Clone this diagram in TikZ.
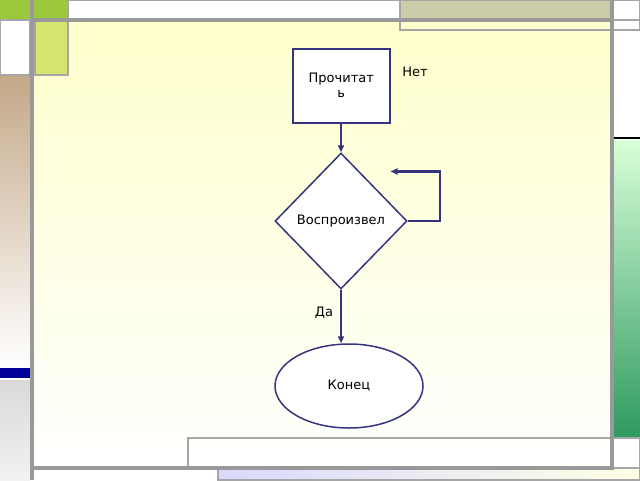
\documentclass[tikz,border=0pt]{standalone}
\usepackage{fontspec}
\setmainfont{DejaVu Sans}
\usetikzlibrary{shapes.geometric,arrows.meta}
\definecolor{flow}{HTML}{35357F}
\definecolor{tan}{HTML}{C4A888}
\definecolor{khaki}{HTML}{CCCCAA}
\definecolor{seagreen}{HTML}{2E9A5E}
\definecolor{leaf}{HTML}{9BC83C}
\definecolor{lime}{HTML}{D4E46C}
\tikzset{
  frame/.style={draw=gray!70, line width=1.2pt},
  bar/.style={draw=gray!80, line width=4pt},
  link/.style={flow, line width=2.2pt, -{Triangle[length=7pt,width=6pt]}},
  label/.style={font=\fontsize{13}{15}\selectfont},
  box/.style={draw=flow, line width=1.5pt, fill=white, minimum width=97pt, minimum height=74pt, align=center, label},
}
\begin{document}
\begin{tikzpicture}[x=1pt,y=-1pt]
    \useasboundingbox (0,0) rectangle (640,480);
    % main slide area
    \shade[top color=yellow!20, bottom color=white] (32,20) rectangle (612,468);
    % decoration left
    \fill[leaf] (0,0) rectangle (68,20);
    \fill[lime] (35,20) rectangle (68,75);
    \draw[frame] (35,20) rectangle (68,75);
    \shade[top color=tan, bottom color=white] (0,75) rectangle (30,368);
    \fill[blue!60!black] (0,368) rectangle (30,378);
    \shade[top color=gray!30, bottom color=gray!10] (0,380) rectangle (30,480);
    \draw[frame] (0,20) rectangle (30,75);
    % decoration right
    \fill[khaki] (400,0) rectangle (612,20);
    \draw[frame] (400,0) rectangle (640,30);
    \draw[frame] (68,0) rectangle (400,20);
    \draw[frame] (612,0) rectangle (640,20);
    \shade[top color=green!15, bottom color=seagreen] (612,140) rectangle (640,438);
    \draw[black, line width=1.5pt] (612,138) -- (640,138);
    % decoration bottom
    \draw[frame] (188,438) rectangle (640,468);
    \shade[left color=blue!15, right color=yellow!10] (218,468) rectangle (640,480);
    \draw[frame] (218,468) rectangle (640,480);
    % grey bars
    \draw[bar] (32,0) -- (32,480);
    \draw[bar] (32,20) -- (612,20);
    \draw[bar] (612,0) -- (612,470);
    \draw[bar] (32,468) -- (612,468);
    % flowchart
    \node[box, anchor=north west] (read) at (292,48) {Прочитат\\ь};
    \node[diamond, draw=flow, line width=1.5pt, fill=white, minimum width=132pt, minimum height=136pt, inner sep=0pt, label] (check) at (341,221) {Воспроизвел};
    \node[ellipse, draw=flow, line width=1.5pt, fill=white, minimum width=148pt, minimum height=84pt, label] (stop) at (349,386) {Конец};
    \coordinate (turn) at (440,221);
    \draw[link] (read.south -| check.north) -- (check.north);
    \draw[link] (check.east) -- (turn) |- ([yshift=-48pt]read.south east);
    \draw[link] (check.south) -- (check.south |- stop.north);
    \node[label] (no) at (415,72) {Нет};
    \node[label] (yes) at (324,313) {Да};
\end{tikzpicture}
\end{document}
